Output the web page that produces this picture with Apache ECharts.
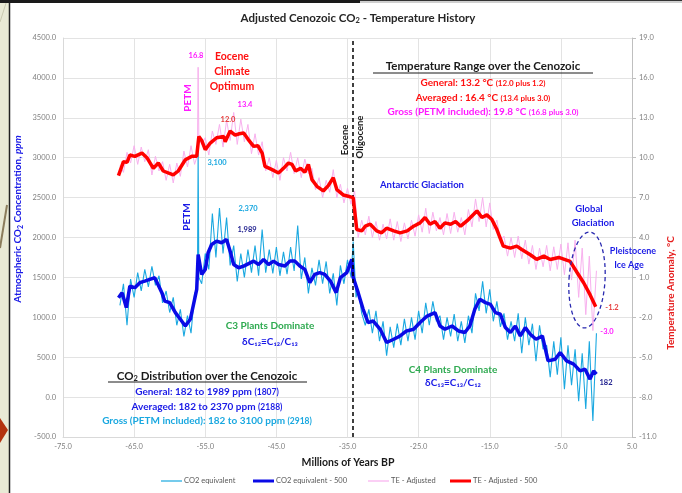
<!DOCTYPE html>
<html><head><meta charset="utf-8">
<script src="https://cdn.jsdelivr.net/npm/echarts/dist/echarts.min.js"></script>
<style>html,body{margin:0;padding:0;background:#fff}#c{width:682px;height:493px}</style>
</head><body><div id="c"></div>
<script>
// ---- data (Millions of years BP, value) ----
const co2Raw = [[-67.0,1150],[-66.5,1420],[-66.0,900],[-65.5,1480],[-65.0,1250],[-64.5,1560],[-64.0,1330],[-63.5,1600],[-63.0,1380],[-62.5,1640],[-62.0,1400],[-61.5,1520],[-61.0,1180],[-60.5,1330],[-60.0,1060],[-59.5,1250],[-59.0,900],[-58.5,1100],[-58.0,760],[-57.5,1020],[-57.0,800],[-56.5,1300],[-56.1,1350],[-56.0,3100],[-55.9,1500],[-55.5,1420],[-55.0,1800],[-54.5,1600],[-54.0,2300],[-53.5,1750],[-53.0,2370],[-52.5,1800],[-52.0,2250],[-51.5,1650],[-51.0,1900],[-50.5,1450],[-50.0,1800],[-49.5,1500],[-49.0,1850],[-48.5,1560],[-48.0,1900],[-47.5,1520],[-47.0,2100],[-46.5,1560],[-46.0,1850],[-45.5,1550],[-45.0,1880],[-44.5,1520],[-44.0,1820],[-43.5,1540],[-43.0,1880],[-42.5,1580],[-42.0,2150],[-41.5,1480],[-41.0,1750],[-40.5,1300],[-40.0,1620],[-39.5,1400],[-39.0,1720],[-38.5,1420],[-38.0,1700],[-37.5,1300],[-37.0,1550],[-36.5,1150],[-36.0,1650],[-35.5,1420],[-35.0,1720],[-34.5,1500],[-34.2,1950],[-33.8,1250],[-33.5,1350],[-33.0,1050],[-32.5,900],[-32.0,1100],[-31.5,800],[-31.0,1080],[-30.5,700],[-30.0,950],[-29.5,520],[-29.0,880],[-28.5,620],[-28.0,920],[-27.5,650],[-27.0,980],[-26.5,700],[-26.0,1000],[-25.5,720],[-25.0,1080],[-24.5,800],[-24.0,1180],[-23.5,900],[-23.0,1200],[-22.5,950],[-22.0,1020],[-21.5,720],[-21.0,1000],[-20.5,760],[-20.0,1040],[-19.5,700],[-19.0,950],[-18.5,680],[-18.0,1020],[-17.5,800],[-17.0,1300],[-16.5,1080],[-16.0,1450],[-15.5,1050],[-15.0,1350],[-14.5,950],[-14.0,1200],[-13.5,880],[-13.0,1050],[-12.5,720],[-12.0,950],[-11.5,700],[-11.0,1050],[-10.5,550],[-10.0,1000],[-9.5,650],[-9.0,920],[-8.5,450],[-8.0,900],[-7.5,600],[-7.0,650],[-6.5,250],[-6.0,700],[-5.5,280],[-5.0,750],[-4.5,100],[-4.0,650],[-3.5,150],[-3.0,600],[-2.5,-50],[-2.0,550],[-1.5,-150],[-1.0,700],[-0.5,-300],[0.0,800]];

const co2Smooth = [[-67.2,1246],[-66.7,1309],[-66.1,1121],[-65.6,1391],[-64.9,1371],[-64.2,1434],[-63.5,1454],[-62.8,1475],[-62.1,1496],[-61.1,1309],[-60.7,1204],[-60.0,1184],[-59.2,1059],[-58.5,975],[-57.8,891],[-57.1,975],[-56.7,1141],[-56.2,1350],[-56.0,1787],[-55.5,1537],[-55.0,1600],[-54.6,1809],[-54.1,1912],[-53.4,1954],[-52.7,1934],[-52.0,1975],[-51.5,1829],[-51.0,1662],[-50.3,1621],[-49.6,1642],[-48.2,1704],[-47.5,1662],[-46.8,1725],[-46.1,1662],[-45.4,1704],[-44.7,1662],[-43.8,1642],[-43.1,1704],[-42.4,1704],[-41.7,1642],[-41.0,1600],[-40.3,1434],[-39.6,1537],[-38.9,1559],[-38.2,1537],[-37.4,1454],[-36.6,1309],[-36.0,1496],[-35.1,1559],[-34.4,1725],[-34.2,1500],[-33.5,1309],[-32.8,1100],[-32.1,934],[-31.4,954],[-30.4,850],[-29.5,684],[-28.5,725],[-27.6,766],[-26.7,829],[-25.7,850],[-24.8,934],[-23.8,1016],[-22.7,1059],[-22.0,891],[-21.3,850],[-20.3,891],[-19.4,829],[-18.5,809],[-17.8,891],[-17.1,1100],[-16.4,1225],[-15.6,1184],[-14.9,1163],[-14.2,1059],[-13.5,1038],[-12.8,871],[-12.1,809],[-11.4,891],[-10.7,766],[-10.0,871],[-9.3,788],[-8.5,725],[-7.6,766],[-6.8,454],[-5.8,475],[-5.1,559],[-4.2,454],[-3.2,413],[-2.3,329],[-1.6,350],[-0.9,225],[-0.4,329],[0.0,288]];

const teRaw = [[-67.0,9.4],[-66.5,8.9],[-66.0,10.4],[-65.5,9.6],[-65.0,10.9],[-64.5,9.5],[-64.0,10.8],[-63.5,9.7],[-63.0,10.6],[-62.5,8.7],[-62.0,10.1],[-61.5,9.0],[-61.0,9.7],[-60.5,8.3],[-60.0,9.5],[-59.5,8.1],[-59.0,9.6],[-58.5,8.6],[-58.0,10.5],[-57.5,9.3],[-57.0,10.9],[-56.5,9.5],[-56.1,10.2],[-56.0,16.8],[-55.9,11.5],[-55.5,11.0],[-55.0,11.5],[-54.5,10.2],[-54.0,12.0],[-53.5,11.0],[-53.0,12.5],[-52.5,10.8],[-52.0,12.8],[-51.5,11.3],[-51.0,13.4],[-50.5,11.0],[-50.0,12.9],[-49.5,11.2],[-49.0,12.5],[-48.5,10.3],[-48.0,11.8],[-47.5,10.2],[-47.0,11.2],[-46.5,9.0],[-46.0,10.0],[-45.5,8.5],[-45.0,9.8],[-44.5,8.3],[-44.0,10.0],[-43.5,9.0],[-43.0,10.4],[-42.5,8.8],[-42.0,10.0],[-41.5,8.5],[-41.0,9.9],[-40.5,8.8],[-40.0,9.2],[-39.5,7.6],[-39.0,8.5],[-38.5,7.0],[-38.0,8.3],[-37.5,7.4],[-37.0,9.1],[-36.5,7.0],[-36.0,8.0],[-35.5,6.6],[-35.0,7.7],[-34.5,6.5],[-34.0,7.5],[-33.5,4.0],[-33.0,5.3],[-32.5,4.2],[-32.0,5.6],[-31.5,4.0],[-31.0,5.2],[-30.5,3.8],[-30.0,5.0],[-29.5,3.9],[-29.0,5.4],[-28.5,3.8],[-28.0,5.2],[-27.5,3.7],[-27.0,5.1],[-26.5,3.9],[-26.0,5.3],[-25.5,4.1],[-25.0,5.7],[-24.5,4.4],[-24.0,6.2],[-23.5,4.3],[-23.0,5.9],[-22.5,4.5],[-22.0,5.5],[-21.5,4.2],[-21.0,5.8],[-20.5,4.3],[-20.0,5.9],[-19.5,4.4],[-19.0,5.5],[-18.5,4.2],[-18.0,6.1],[-17.5,4.8],[-17.0,6.9],[-16.5,5.2],[-16.0,7.0],[-15.5,4.8],[-15.0,6.6],[-14.5,4.6],[-14.0,5.3],[-13.5,3.8],[-13.0,4.1],[-12.5,2.6],[-12.0,4.0],[-11.5,2.5],[-11.0,4.1],[-10.5,2.4],[-10.0,3.8],[-9.5,2.0],[-9.0,3.4],[-8.5,1.6],[-8.0,3.2],[-7.5,1.8],[-7.0,3.4],[-6.5,1.5],[-6.0,3.3],[-5.5,1.6],[-5.0,3.5],[-4.5,1.2],[-4.0,3.6],[-3.5,0.8],[-3.0,3.8],[-2.5,-0.5],[-2.0,3.2],[-1.5,-1.8],[-1.0,2.6],[-0.5,-3.0],[0.0,1.5]];

const teSmooth = [[-67.2,8.65],[-66.5,9.7],[-66.0,9.65],[-65.6,10.2],[-64.9,10.1],[-63.9,10.35],[-63.2,10.0],[-62.3,9.2],[-61.6,9.6],[-60.9,9.0],[-59.5,8.7],[-58.8,9.0],[-57.8,9.85],[-56.9,10.1],[-56.2,10.1],[-55.9,11.6],[-55.5,11.3],[-55.0,10.6],[-54.3,11.1],[-53.4,11.5],[-52.4,11.6],[-52.2,11.2],[-51.5,12.0],[-50.8,11.7],[-50.2,11.8],[-49.6,11.85],[-49.0,11.4],[-48.2,10.85],[-47.6,10.9],[-47.0,10.35],[-46.6,9.35],[-45.6,9.1],[-44.7,8.85],[-44.0,9.2],[-43.3,9.6],[-42.8,9.5],[-42.3,9.0],[-41.6,9.2],[-41.0,8.9],[-40.5,9.5],[-40.0,8.35],[-39.3,7.85],[-38.4,7.5],[-37.7,7.9],[-37.0,8.5],[-36.5,7.6],[-35.6,7.2],[-34.9,7.1],[-34.2,7.0],[-33.7,4.6],[-33.0,4.5],[-32.5,4.85],[-31.8,5.0],[-30.9,4.5],[-30.2,4.35],[-29.5,4.7],[-28.5,4.5],[-27.6,4.35],[-26.6,4.5],[-25.7,4.85],[-24.8,5.1],[-24.1,5.5],[-23.4,5.0],[-22.7,5.2],[-22.0,4.7],[-21.3,5.1],[-20.5,5.0],[-19.8,5.2],[-19.1,4.85],[-18.0,5.35],[-16.8,6.0],[-16.1,5.5],[-15.4,5.7],[-14.7,5.35],[-14.0,4.6],[-13.1,3.35],[-12.1,3.2],[-11.2,3.35],[-10.5,3.1],[-9.3,2.7],[-8.4,2.35],[-7.4,2.6],[-6.5,2.35],[-5.3,2.5],[-3.7,2.2],[-2.7,1.35],[-1.8,0.6],[-0.9,-0.3],[-0.1,-1.2]];

const seriesNames = ['CO2 equivalent','CO2 equivalent - 500','TE - Adjusted','TE - Adjusted - 500'];
const seriesColors = ['#1aa8e0', '#0a0ae6', '#f8b0ee', '#ff0000'];
const seriesWidths = [1, 3.5, 1, 3.5];
const eoceneOligoceneBoundary = -34.2;

// ---- chart ----
const F = 'Lato, "Open Sans", "DejaVu Sans", sans-serif';
const chart = echarts.init(document.getElementById('c'));
function txt(x, y, text, color, size, extra) {
  extra = extra || {};
  return Object.assign({
    type: 'text', x: x, y: y, z: 100, silent: true,
    style: Object.assign({ text: text, fill: color, font: 'bold ' + size + 'px ' + F,
      textAlign: 'center', verticalAlign: 'middle' }, extra.style || {})
  }, extra.el || {});
}
function rich(x, y, text, richDef, extra) {
  extra = extra || {};
  return Object.assign({
    type: 'text', x: x, y: y, z: 100, silent: true,
    style: { text: text, rich: richDef, textAlign: 'center', verticalAlign: 'middle', fontFamily: F }
  }, extra);
}
const V = Math.PI / 2;
const tickFmt = v => Number(v).toFixed(1);

// manual legend (line swatches like the original)
const legendX = [161, 253, 368, 450];
const legendEls = [];
seriesNames.forEach((n, i) => {
  legendEls.push({ type: 'line', shape: { x1: legendX[i], y1: 481, x2: legendX[i] + 21, y2: 481 },
    style: { stroke: seriesColors[i], lineWidth: seriesWidths[i] === 1 ? 1.2 : 3 }, z: 100, silent: true });
  legendEls.push({ type: 'text', x: legendX[i] + 23, y: 481, z: 100, silent: true,
    style: { text: n, fill: '#595959', font: '7.5px ' + F, textAlign: 'left', verticalAlign: 'middle' } });
});

const option = {
  animation: false,
  backgroundColor: '#ffffff',
  grid: { left: 63, right: 50, top: 38, bottom: 56 },
  xAxis: {
    type: 'value', min: -75, max: 5, interval: 10,
    axisLine: { show: true, onZero: false, lineStyle: { color: '#d9d9d9' } },
    axisTick: { show: false },
    splitLine: { show: true, lineStyle: { color: '#e3e3e3' } },
    axisLabel: { formatter: tickFmt, fontSize: 7.5, color: '#808080', fontFamily: F, margin: 6 }
  },
  yAxis: [{
    type: 'value', min: -500, max: 4500, interval: 500,
    axisLine: { show: true, onZero: false, lineStyle: { color: '#d9d9d9' } },
    axisTick: { show: false },
    splitLine: { show: true, lineStyle: { color: '#e3e3e3' } },
    axisLabel: { formatter: tickFmt, fontSize: 7.5, color: '#808080', fontFamily: F, margin: 7 }
  }, {
    type: 'value', min: -11, max: 19, interval: 3,
    axisLine: { show: true, onZero: false, lineStyle: { color: '#bfbfbf' } },
    axisTick: { show: true, length: 4, lineStyle: { color: '#bfbfbf' } },
    splitLine: { show: false },
    axisLabel: { formatter: tickFmt, fontSize: 7.5, color: '#808080', fontFamily: F, margin: 7 }
  }],
  series: [
    { name: seriesNames[0], type: 'line', yAxisIndex: 0, data: co2Raw, symbol: 'none',
      lineStyle: { color: seriesColors[0], width: 1.1 }, z: 2 },
    { name: seriesNames[1], type: 'line', yAxisIndex: 0, data: co2Smooth, symbol: 'none',
      lineStyle: { color: seriesColors[1], width: 3.5 }, z: 3 },
    { name: seriesNames[2], type: 'line', yAxisIndex: 1, data: teRaw, symbol: 'none',
      lineStyle: { color: seriesColors[2], width: 1 }, z: 4 },
    { name: seriesNames[3], type: 'line', yAxisIndex: 1, data: teSmooth, symbol: 'none',
      lineStyle: { color: seriesColors[3], width: 3.5 }, z: 5,
      markLine: { silent: true, symbol: 'none', label: { show: false },
        lineStyle: { color: '#000', type: [4, 3], width: 1.5 },
        data: [{ xAxis: eoceneOligoceneBoundary }] } }
  ],
  graphic: [
    // frame decoration
    { type: 'rect', shape: { x: 0, y: 0, width: 10, height: 493 }, style: { fill: '#e9ead5' }, z: 0 },
    { type: 'line', shape: { x1: 0, y1: 22, x2: 7, y2: 0 }, style: { stroke: '#c9c9b0', lineWidth: 1 }, z: 1 },
    { type: 'line', shape: { x1: 7, y1: 205, x2: 0, y2: 248 }, style: { stroke: '#8b7d5c', lineWidth: 2 }, z: 1 },
    { type: 'polygon', shape: { points: [[0, 418], [8, 430], [0, 443]] }, style: { fill: '#b3330f' }, z: 1 },
    { type: 'line', shape: { x1: 9.5, y1: 0, x2: 9.5, y2: 493 }, style: { stroke: '#222', lineWidth: 1.5 }, z: 1 },
    { type: 'rect', shape: { x: 0, y: 0, width: 360, height: 3 }, style: { fill: '#1a1a1a' }, z: 1 },
    { type: 'rect', shape: { x: 360, y: 0, width: 322, height: 3 }, style: { fill: '#cfcfcf' }, z: 1 },
    { type: 'line', shape: { x1: 360, y1: 0.5, x2: 682, y2: 0.5 }, style: { stroke: '#333', lineWidth: 1 }, z: 1 },

    // title & axis names
    rich(358, 18, '{a|Adjusted Cenozoic CO}{s|2}{a| - Temperature History}', {
      a: { fontSize: 11.5, fontWeight: 'bold', fill: '#262626', fontFamily: F },
      s: { fontSize: 7.5, fontWeight: 'bold', fill: '#262626', fontFamily: F, padding: [5, 0, 0, 0] }
    }),
    txt(348, 463, 'Millions of Years BP', '#1a1a1a', 10.5),
    rich(18, 219, '{a|Atmospheric CO}{s|2}{a| Concentration, }{i|ppm}', {
      a: { fontSize: 10, fontWeight: 'bold', fill: '#1a1ae6', fontFamily: F },
      s: { fontSize: 7, fontWeight: 'bold', fill: '#1a1ae6', fontFamily: F, padding: [5, 0, 0, 0] },
      i: { fontSize: 10, fontWeight: 'bold', fontStyle: 'italic', fill: '#1a1ae6', fontFamily: F }
    }, { rotation: V }),
    txt(671, 293, 'Temperature Anomaly, °C', '#e61e1e', 10, { el: { rotation: V } }),

    // Eocene annotations
    txt(196, 56, '16.8', '#ff1aff', 7.5),
    txt(232, 57, 'Eocene', '#ff1010', 10.5),
    txt(232, 72, 'Climate', '#ff1010', 10.5),
    txt(232, 87, 'Optimum', '#ff1010', 10.5),
    txt(188, 98, 'PETM', '#ff1aff', 10, { el: { rotation: V } }),
    txt(245, 105, '13.4', '#ff1aff', 7.5),
    txt(228, 120, '12.0', '#e63c3c', 7.5),
    txt(217, 163, '3,100', '#1aa8e0', 7.5),
    txt(187, 217, 'PETM', '#1a1ae6', 10, { el: { rotation: V } }),
    txt(248, 209, '2,370', '#1aa8e0', 7.5),
    txt(247, 230, '1,989', '#1a1a8c', 7.5),
    txt(345, 140, 'Eocene', '#1a1a1a', 9.5, { el: { rotation: V } }),
    txt(360, 137, 'Oligocene', '#1a1a1a', 9.5, { el: { rotation: V } }),

    // temperature range box
    txt(483, 66, 'Temperature Range over the Cenozoic', '#1a1a1a', 11.5),
    { type: 'line', shape: { x1: 373, y1: 73, x2: 593, y2: 73 }, style: { stroke: '#1a1a1a', lineWidth: 1 }, z: 100 },
    rich(483, 83, '{a|General: 13.2 °C }{b|(12.0 plus 1.2)}', {
      a: { fontSize: 10, fontWeight: 'bold', fill: '#ff1010', fontFamily: F },
      b: { fontSize: 8, fontWeight: 'bold', fill: '#ff1010', fontFamily: F }
    }),
    rich(483, 98, '{a|Averaged : 16.4 °C }{b|(13.4 plus 3.0)}', {
      a: { fontSize: 10, fontWeight: 'bold', fill: '#ff1010', fontFamily: F },
      b: { fontSize: 8, fontWeight: 'bold', fill: '#ff1010', fontFamily: F }
    }),
    rich(483, 112, '{a|Gross (PETM included): 19.8 °C }{b|(16.8 plus 3.0)}', {
      a: { fontSize: 10, fontWeight: 'bold', fill: '#ff1aff', fontFamily: F },
      b: { fontSize: 8, fontWeight: 'bold', fill: '#ff1aff', fontFamily: F }
    }),

    txt(422, 185, 'Antarctic Glaciation', '#1a1ae6', 9.5),
    txt(589, 209, 'Global', '#1a1ae6', 9.5),
    txt(593, 223, 'Glaciation', '#1a1ae6', 9.5),
    txt(633, 251, 'Pleistocene', '#1a1ae6', 9),
    txt(629, 265, 'Ice Age', '#1a1ae6', 9),
    { type: 'ellipse', shape: { cx: 587, cy: 280, rx: 18, ry: 48 }, rotation: -0.06, originX: 587, originY: 280,
      style: { fill: 'none', stroke: '#2a2ab0', lineWidth: 1.3, lineDash: [4, 3] }, z: 100, silent: true },
    txt(612, 308, '-1.2', '#e63c3c', 7.5),
    txt(607, 332, '-3.0', '#ff1aff', 7.5),
    txt(606, 383, '182', '#1a1a8c', 7.5),

    // C3 / C4
    txt(270, 326, 'C3 Plants Dominate', '#2eaa50', 10),
    txt(270, 342, 'δC₁₂≡C₁₂/C₁₃', '#1a1ae6', 10),
    txt(453, 370, 'C4 Plants Dominate', '#2eaa50', 10),
    txt(453, 383, 'δC₁₃≡C₁₃/C₁₂', '#1a1ae6', 10),

    // CO2 distribution box
    rich(207, 376, '{a|CO}{s|2}{a| Distribution over the Cenozoic}', {
      a: { fontSize: 11.5, fontWeight: 'bold', fill: '#1a1a1a', fontFamily: F },
      s: { fontSize: 7.5, fontWeight: 'bold', fill: '#1a1a1a', fontFamily: F, padding: [5, 0, 0, 0] }
    }),
    { type: 'line', shape: { x1: 108, y1: 382, x2: 307, y2: 382 }, style: { stroke: '#1a1a1a', lineWidth: 1 }, z: 100 },
    rich(207, 392, '{a|General: 182 to 1989 ppm }{b|(1807)}', {
      a: { fontSize: 10, fontWeight: 'bold', fill: '#1a1ae6', fontFamily: F },
      b: { fontSize: 8.5, fontWeight: 'bold', fill: '#1a1ae6', fontFamily: F }
    }),
    rich(207, 407, '{a|Averaged: 182 to 2370 ppm }{b|(2188)}', {
      a: { fontSize: 10, fontWeight: 'bold', fill: '#1a1ae6', fontFamily: F },
      b: { fontSize: 8.5, fontWeight: 'bold', fill: '#1a1ae6', fontFamily: F }
    }),
    rich(207, 421, '{a|Gross (PETM included): 182 to 3100 ppm }{b|(2918)}', {
      a: { fontSize: 10, fontWeight: 'bold', fill: '#1aa8e0', fontFamily: F },
      b: { fontSize: 8.5, fontWeight: 'bold', fill: '#1aa8e0', fontFamily: F }
    })
  ].concat(legendEls)
};
chart.setOption(option);
</script>
</body></html>
